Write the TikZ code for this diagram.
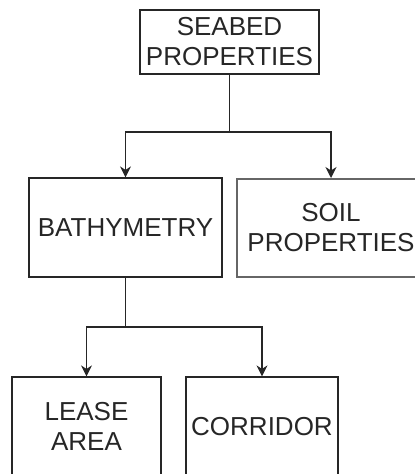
\documentclass[tikz,border=0pt]{standalone}
\usepackage{fontspec}
\setmainfont{Liberation Sans}
\usetikzlibrary{arrows.meta}
\begin{document}
\begin{tikzpicture}[x=1pt,y=-1pt,
  box/.style={draw=black!85, line width=1.2pt, inner sep=0pt, align=center,
    text=black!85, font=\fontsize{26}{30}\selectfont},
  softbox/.style={box, draw=black!60, line width=2pt},
  wire/.style={draw=black!85, line width=1.2pt},
  link/.style={wire, -{Stealth[length=11pt,width=11pt,inset=3.5pt]}}]
\useasboundingbox (0,0) rectangle (415,474);
\clip (0,0) rectangle (415,474);

% boxes
\node[box, minimum width=179pt, minimum height=64pt] (seabed) at (229.5,42) {SEABED\\PROPERTIES};
\node[box, minimum width=193pt, minimum height=99pt] (bathy) at (125.5,227.5) {BATHYMETRY};
\node[softbox, minimum width=188pt, minimum height=98pt] (soil) at (331,228) {SOIL\\PROPERTIES};
\node[box, minimum width=149pt, minimum height=99pt] (lease) at (86.5,426.5) {LEASE\\AREA};
\node[box, minimum width=152pt, minimum height=99pt] (corridor) at (262,426.5) {CORRIDOR};

% branch points
\coordinate (j1) at (seabed.south |- 0,132);
\coordinate (j2) at (bathy.south |- 0,327);

% connectors
\draw[wire] (seabed.south) -- (j1);
\draw[link] (j1) -| (bathy.north);
\draw[link] (j1) -| (soil.north);
\draw[wire] (bathy.south) -- (j2);
\draw[link] (j2) -| (lease.north);
\draw[link] (j2) -| (corridor.north);
\end{tikzpicture}
\end{document}
